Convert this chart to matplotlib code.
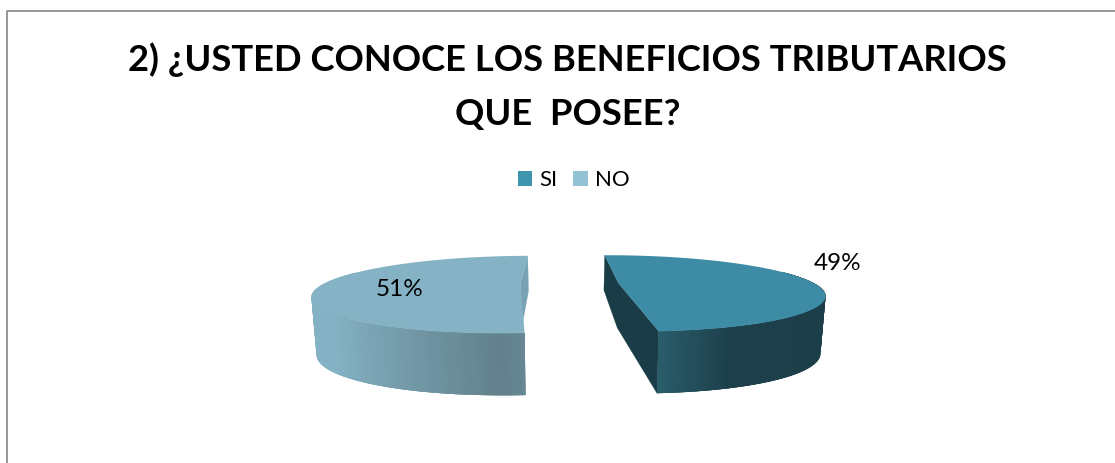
import numpy as np
import matplotlib
matplotlib.use("Agg")
import matplotlib.pyplot as plt
from matplotlib.patches import Polygon, Patch
from matplotlib.colors import to_rgb

categories = ["SI", "NO"]
values = [49, 51]
value_labels = ["49%", "51%"]
title_lines = ["2) ¿USTED CONOCE LOS BENEFICIOS TRIBUTARIOS", "QUE  POSEE?"]

W, H = 1115, 463
plt.rcParams["font.family"] = ["Lato", "DejaVu Sans"]
fig = plt.figure(figsize=(W / 100, H / 100), dpi=100, facecolor="white")
ax = fig.add_axes([0, 0, 1, 1])
ax.set_xlim(0, W)
ax.set_ylim(H, 0)
ax.axis("off")

# perspective pie geometry, in pixels
CX, CY, R, EXPLODE = 569.5, 283.5, 196.0, 49.0
D, K = 3.67, 35.6
START = -1.2
BOTTOM_SCALE = 0.98


def project(X, Z):
    s = D / (D + Z)
    return CX + X * s, CY - K * Z * s


def depth(X, Z):
    x, y = project(X, Z)
    h = np.interp(Z, [-1.0, -0.27, 0.0, 1.0], [62.0, 57.0, 45.0, 35.0])
    return CX + (x - CX) * BOTTOM_SCALE, y + h


styles = {
    "SI": dict(top="#3e8ba5", cut="#1a3c47",
               rim=[(0.0, "#1c3e49"), (0.62, "#1c3f4a"), (1.0, "#2e6674")],
               label_xy=(838, 264), draw_front_cut=True),
    "NO": dict(top="#85b3c5", cut="#78a3b4",
               rim=[(0.0, "#62818c"), (0.72, "#84b2c4"), (1.0, "#84b2c4")],
               label_xy=(400, 290), draw_front_cut=False),
}


def blend(stops, f):
    fs = [a for a, _ in stops]
    cs = np.array([to_rgb(c) for _, c in stops])
    return tuple(np.interp(f, fs, cs[:, i]) for i in range(3))


angle = START
for cat, val, lab in zip(categories, values, value_labels):
    st = styles[cat]
    sweep = val / sum(values) * 360.0
    a0, a1 = angle, angle + sweep
    angle = a1
    mid = np.radians((a0 + a1) / 2)
    ox, oz = EXPLODE * np.sin(mid), EXPLODE * np.cos(mid)
    t = np.radians(np.linspace(a0, a1, 241))
    X = ox + R * np.sin(t)
    Zn = (oz + R * np.cos(t)) / R

    top = np.array([project(x, z) for x, z in zip(X, Zn)])
    bot = np.array([depth(x, z) for x, z in zip(X, Zn)])
    apex_t = project(ox, oz / R)
    apex_b = depth(ox, oz / R)

    # cut faces
    back_i = 0 if cat == "SI" else -1
    front_i = -1 if cat == "SI" else 0
    if st["draw_front_cut"]:
        cut = [top[back_i], apex_t, top[front_i], bot[front_i], apex_b, bot[back_i]]
    else:
        cut = [top[back_i], apex_t, apex_b, bot[back_i]]
    ax.add_patch(Polygon(cut, closed=True, fc=st["cut"], ec=st["cut"], lw=0.2, zorder=2))

    # outer rim as shaded overlapping strips, front half only
    idx = [i for i in range(len(t) - 1) if np.cos(t[i]) <= 0.35]
    if cat == "NO":
        idx = idx[::-1]
    for i in idx:
        j = min(i + 3, len(t) - 1) if cat == "SI" else i + 1
        k = i if cat == "SI" else max(i - 2, 0)
        f = abs(np.sin(t[i]))
        f = 1 - f if cat == "SI" else f
        c = blend(st["rim"], f)
        ax.add_patch(Polygon(np.vstack([top[k:j + 1], bot[k:j + 1][::-1]]), closed=True,
                             fc=c, ec="none", zorder=3))

    # top face
    ax.add_patch(Polygon(np.vstack([[apex_t], top]), closed=True,
                         fc=st["top"], ec="none", zorder=4))
    ax.text(*st["label_xy"], lab, ha="center", va="center", fontsize=17.5, color="black", zorder=6)

# title
ax.text(567.5, 60, title_lines[0], ha="center", va="center", fontsize=26.2, fontweight="bold", color="black")
ax.text(567.5, 115, title_lines[1], ha="center", va="center", fontsize=26.2, fontweight="bold", color="black")

# legend
handles = [Patch(fc="#3f95ae", ec="none", label=categories[0]),
           Patch(fc="#93c2d5", ec="none", label=categories[1])]
ax.legend(handles=handles, loc="center", bbox_to_anchor=(573.5, 180), bbox_transform=ax.transData,
          ncol=2, frameon=False, fontsize=16, handlelength=0.66, handleheight=0.66,
          handletextpad=0.32, columnspacing=0.69, borderpad=0, borderaxespad=0)

# chart frame
ax.plot([6.5, 6.5, W], [H, 11, 11], color="#888888", lw=1.2, solid_capstyle="butt", zorder=1)

fig.savefig("out.png", dpi=100, facecolor="white")
